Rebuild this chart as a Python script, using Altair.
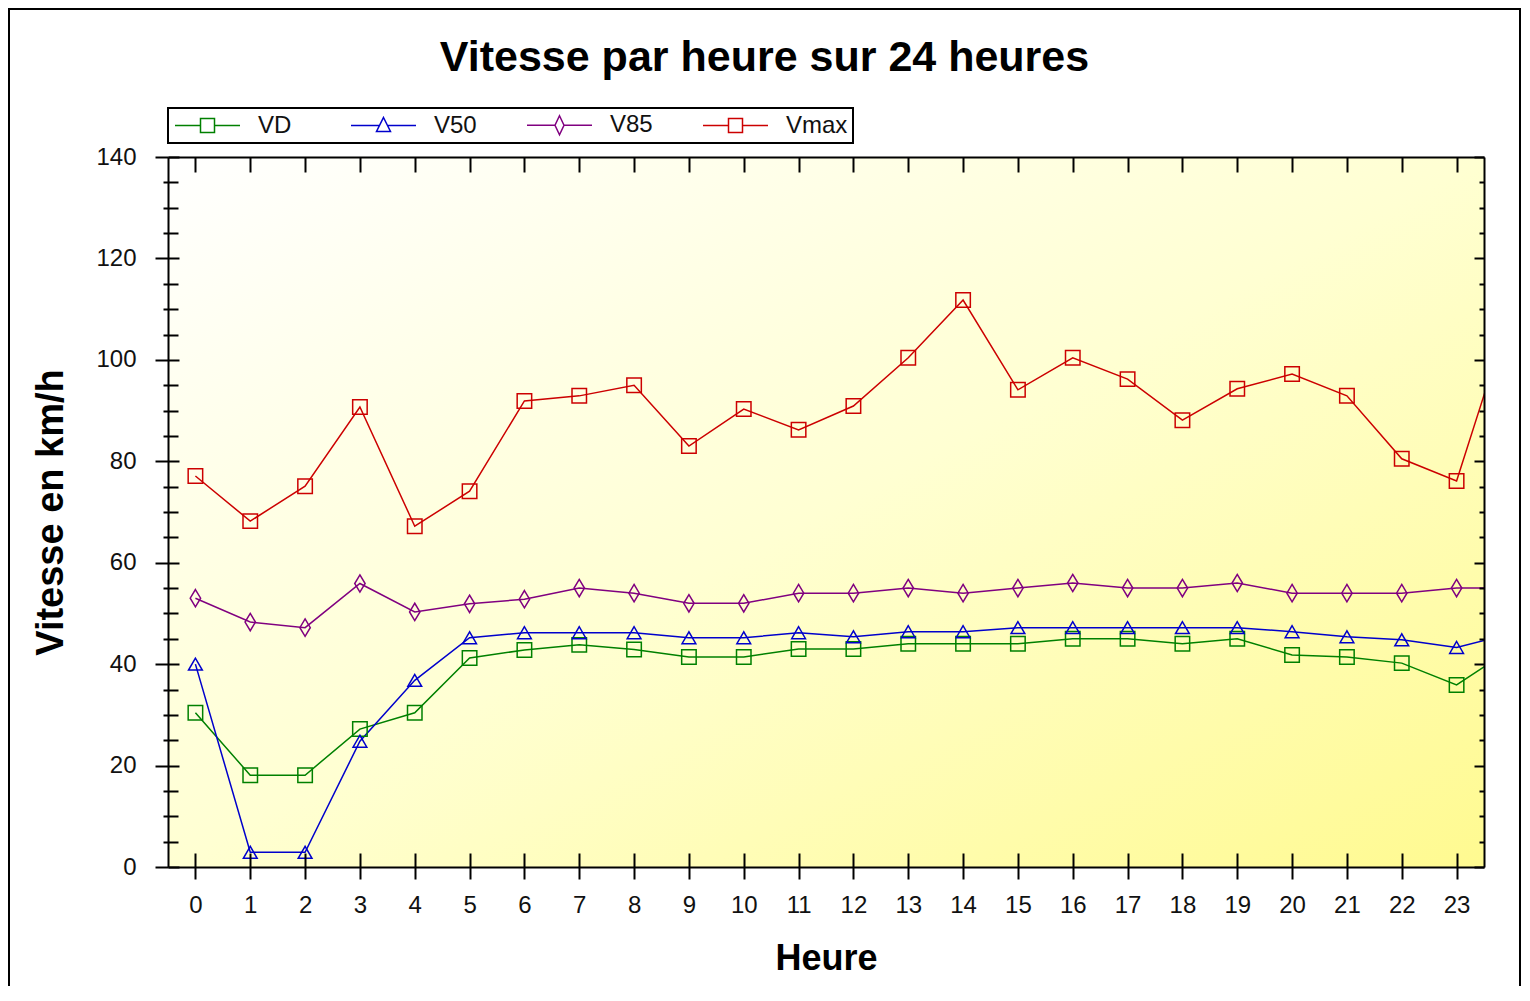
import altair as alt
import pandas as pd

# ---------------- data ----------------
hours = list(range(25))  # hour 24 is only the clipped continuation at the right edge
series = ["VD", "V50", "V85", "Vmax"]
vd = [30.4, 18.1, 18.1, 27.2, 30.4, 41.2, 42.8, 43.8, 42.9, 41.4, 41.4, 43.0, 43.0,
      44.0, 44.0, 44.0, 45.0, 45.0, 44.0, 45.0, 41.8, 41.4, 40.2, 35.9, 43.0]
v50 = [40.0, 2.9, 2.9, 24.8, 36.8, 45.2, 46.2, 46.2, 46.2, 45.2, 45.2, 46.2, 45.4,
       46.4, 46.4, 47.2, 47.2, 47.2, 47.2, 47.2, 46.4, 45.4, 44.8, 43.3, 46.0]
v85 = [53.0, 48.3, 47.2, 55.9, 50.3, 51.9, 52.8, 55.0, 54.0, 52.0, 52.0, 54.0, 54.0,
       55.0, 54.0, 55.0, 56.0, 55.0, 55.0, 56.0, 54.0, 54.0, 54.0, 55.0, 55.0]
vmax = [77.1, 68.2, 75.1, 90.7, 67.2, 74.1, 91.9, 92.9, 95.0, 83.0, 90.3, 86.2, 90.9,
        100.4, 111.8, 94.1, 100.4, 96.2, 88.1, 94.3, 97.2, 92.9, 80.5, 76.1, 110.0]
colors = ["#008000", "#0000CC", "#800080", "#CC0000"]
x_ticks = list(range(24))
y_ticks = list(range(0, 141, 5))

rows = []
for name, vals in zip(series, [vd, v50, v85, vmax]):
    for h, v in zip(hours, vals):
        rows.append({"Heure": h, "Vitesse": v, "Serie": name})
df = pd.DataFrame(rows)
one = pd.DataFrame({"k": [0]})

# ---------------- layout constants ----------------
W, H = 1316, 710
PAD = {"left": 160, "top": 149, "right": 38, "bottom": 119}
FONT = "Liberation Sans"
xscale = alt.Scale(domain=[-0.5, 23.5], nice=False, zero=False)
yscale = alt.Scale(domain=[0, 140], nice=False, zero=False)
major = "datum.value % 20 === 0"

# legend symbols: line + marker (custom paths)
sym_sq = "M-1,0H1.55M2.95,0H5.5M1.55,-0.7H2.95V0.7H1.55Z"
sym_tri = "M-1,0H1.85M2.65,0H5.5M2.25,-0.8L2.95,0.6H1.55Z"
sym_dia = "M-1,0H1.8M2.7,0H5.5M2.25,-0.95L2.7,0L2.25,0.95L1.8,0Z"
legend_shapes = [sym_sq, sym_tri, sym_dia, sym_sq]

leg = alt.Legend(title=None, orient="none", legendX=0, legendY=-49, direction="horizontal",
                 columns=4, gridAlign="all", columnPadding=28, symbolSize=400, symbolStrokeWidth=1.5,
                 symbolType=sym_sq,
                 labelOffset=61, labelFontSize=24, labelFont=FONT, labelColor="#111111",
                 padding=5, strokeColor="black", fillColor="white", labelLimit=300)
color_enc = alt.Color("Serie:N", scale=alt.Scale(domain=series, range=colors), legend=leg)

# ---------------- axes ----------------
x_main = alt.Axis(values=x_ticks, title="Heure", tickSize=12, tickWidth=2, tickColor="black",
                  domain=True, domainColor="black", domainWidth=2, grid=False, zindex=1,
                  labelFontSize=24, labelPadding=14, labelFlush=False, labelOverlap=False,
                  titleFontSize=36, titleFontWeight="bold", titlePadding=24)
y_main = alt.Axis(values=y_ticks, labelExpr=f"{major} ? datum.label : ''", title="Vitesse en km/h",
                  tickSize={"condition": {"test": major, "value": 13}, "value": 5},
                  tickWidth=2, tickColor="black", domain=True, domainColor="black", domainWidth=2,
                  grid=False, zindex=1, labelFontSize=24, labelPadding=19, labelFlush=False,
                  labelOverlap=False, titleFontSize=38, titleFontWeight="bold", titlePadding=25)
x_in_bottom = alt.Axis(values=x_ticks, orient="top", offset=-H, labels=False, title=None, domain=False,
                       tickSize=14, tickWidth=2, tickColor="black", grid=False, zindex=1)
y_in_left = alt.Axis(values=y_ticks, orient="right", offset=-W, labels=False, title=None, domain=False,
                     tickSize={"condition": {"test": major, "value": 11}, "value": 10},
                     tickWidth=2, tickColor="black", grid=False, zindex=1)
x_top = alt.Axis(values=x_ticks, orient="bottom", offset=-H, labels=False, title=None, domain=True,
                 domainColor="black", domainWidth=2, tickSize=15, tickWidth=2, tickColor="black",
                 grid=False, zindex=1)
y_right = alt.Axis(values=y_ticks, orient="left", offset=-W, labels=False, title=None, domain=True,
                   domainColor="black", domainWidth=2,
                   tickSize={"condition": {"test": major, "value": 10}, "value": 5},
                   tickWidth=2, tickColor="black", grid=False, zindex=1)

# ---------------- layers ----------------
background = alt.Chart(one).mark_rect(
    fill=alt.LinearGradient(gradient="linear",
                            stops=[alt.GradientStop(color="#FFFFFF", offset=0),
                                   alt.GradientStop(color="#FFFFD2", offset=0.5),
                                   alt.GradientStop(color="#FFFA90", offset=1)],
                            x1=0, y1=0, x2=1, y2=1)
).encode(x=alt.value(0), x2=alt.value(W), y=alt.value(0), y2=alt.value(H))

FR_L, FR_R, FR_T, FR_B = -159, 1352, -148, H + PAD["bottom"]
frame_top = alt.Chart(one).mark_rule(color="black", strokeWidth=2).encode(
    x=alt.value(FR_L - 1), x2=alt.value(FR_R + 1), y=alt.value(FR_T))
frame_left = alt.Chart(one).mark_rule(color="black", strokeWidth=2).encode(
    x=alt.value(FR_L), y=alt.value(FR_T - 1), y2=alt.value(FR_B))
frame_right = alt.Chart(one).mark_rule(color="black", strokeWidth=2).encode(
    x=alt.value(FR_R), y=alt.value(FR_T - 1), y2=alt.value(FR_B))

lines = alt.Chart(df).mark_line(strokeWidth=1.5, clip=True).encode(
    x=alt.X("Heure:Q", scale=xscale, axis=x_main),
    y=alt.Y("Vitesse:Q", scale=yscale, axis=y_main),
    color=color_enc,
    detail="Serie:N",
)

squares = alt.Chart(df).transform_filter(
    "datum.Serie === 'VD' || datum.Serie === 'Vmax'"
).mark_point(shape="square", size=210, filled=False, strokeWidth=1.5, opacity=1, clip=True).encode(
    x=alt.X("Heure:Q", scale=xscale, axis=x_in_bottom),
    y=alt.Y("Vitesse:Q", scale=yscale, axis=y_in_left),
    color=color_enc,
)
triangles = alt.Chart(df).transform_filter("datum.Serie === 'V50'").mark_point(
    shape="triangle-up", size=190, filled=False, strokeWidth=1.5, opacity=1, clip=True).encode(
    x=alt.X("Heure:Q", scale=xscale, axis=x_top),
    y=alt.Y("Vitesse:Q", scale=yscale, axis=y_right),
    color=color_enc,
)
diamonds = alt.Chart(df).transform_filter("datum.Serie === 'V85'").mark_point(
    shape="M0,-1L0.6,0L0,1L-0.6,0Z", size=300, filled=False, strokeWidth=1.5, opacity=1, clip=True).encode(
    x=alt.X("Heure:Q", scale=xscale, axis=None),
    y=alt.Y("Vitesse:Q", scale=yscale, axis=None),
    color=color_enc,
)

# invisible layer carrying the legend's line+marker symbols
legend_layer = alt.Chart(df).transform_filter("false").mark_point(filled=False, strokeWidth=1.5).encode(
    x=alt.X("Heure:Q", scale=xscale, axis=None),
    y=alt.Y("Vitesse:Q", scale=yscale, axis=None),
    color=color_enc,
    shape=alt.Shape("Serie:N", scale=alt.Scale(domain=series, range=legend_shapes), legend=leg),
)

chart = alt.layer(
    background, frame_top, frame_left, frame_right, lines, squares, triangles, diamonds, legend_layer
).resolve_scale(
    x="independent", y="independent"
).properties(
    width=W, height=H, padding=PAD, autosize=alt.AutoSizeParams(type="none"),
    title=alt.Title("Vitesse par heure sur 24 heures", fontSize=43, font=FONT, fontWeight="bold",
                    anchor="middle", frame="bounds", offset=-107, baseline="alphabetic", color="black"),
).configure_view(stroke=None).configure_axis(
    labelFont=FONT, titleFont=FONT, labelColor="#111111", titleColor="black"
).configure_legend(strokeWidth=2)

chart.save("out.html", embed_options={"renderer": "svg", "actions": False})
